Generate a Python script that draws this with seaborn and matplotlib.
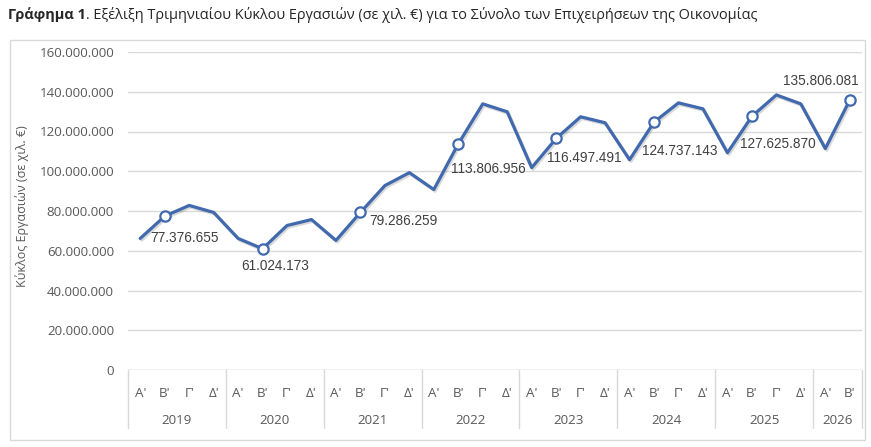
import matplotlib
matplotlib.use("Agg")
import matplotlib.pyplot as plt
import matplotlib.patheffects as pe
from matplotlib.patches import Rectangle
import numpy as np
import pandas as pd
import seaborn as sns

# quarterly turnover (thousand EUR), 2019 Q1 .. 2026 Q2
years = ["2019", "2020", "2021", "2022", "2023", "2024", "2025", "2026"]
quarters = ["Α'", "Β'", "Γ'", "Δ'"]
quarter_labels = quarters * 7 + quarters[:2]
year_of_point = [y for y in years[:-1] for _ in range(4)] + ["2026", "2026"]
turnover = [66.2e6, 77376655, 82.8e6, 79.3e6,
            66.2e6, 61024173, 72.7e6, 75.7e6,
            65.2e6, 79286259, 92.8e6, 99.3e6,
            90.8e6, 113806956, 133.9e6, 129.9e6,
            101.8e6, 116497491, 127.4e6, 124.4e6,
            105.8e6, 124737143, 134.4e6, 131.4e6,
            109.3e6, 127625870, 138.4e6, 133.9e6,
            111.4e6, 135806081]
# pixel offsets of the value labels on the Β' points
label_offsets = [(20, -22), (13, -17), (42, -9), (30, -25),
                 (28, -20), (26, -29), (26, -28), (-29, 19)]

df = pd.DataFrame({"idx": np.arange(len(turnover)), "value": turnover,
                   "quarter": quarter_labels, "year": year_of_point})

sns.set_style("white")
fonts = ["Open Sans", "Noto Sans", "DejaVu Sans"]
plt.rcParams["font.family"] = fonts

W, H = 871, 447
fig = plt.figure(figsize=(W / 100, H / 100), dpi=100)
ax = fig.add_axes([128 / W, 1 - 370 / H, (862 - 128) / W, (370 - 52) / H])

blue = "#4169AE"
grey_txt = "#595959"
grid_c = "#D9D9D9"

sns.lineplot(data=df, x="idx", y="value", ax=ax, color=blue, lw=2.3,
             path_effects=[pe.SimpleLineShadow(offset=(1, -1.2), alpha=0.15),
                           pe.Normal()], zorder=3)
marked = df[df["quarter"] == "Β'"]
sns.scatterplot(data=marked, x="idx", y="value", ax=ax, s=55, color="white",
                edgecolor=blue, linewidth=1.6, zorder=4)

fmt = lambda v: f"{v:,.0f}".replace(",", ".")
for (i, row), (dx, dy) in zip(marked.iterrows(), label_offsets):
    ha = "left" if dx == 42 else "center"
    if ha == "left":
        dx = 9
    ax.annotate(fmt(row["value"]), (row["idx"], row["value"]),
                xytext=(dx, dy), textcoords="offset pixels", ha=ha, va="center",
                fontsize=9.8, color="#404040", family=["Liberation Sans", "DejaVu Sans"],
                zorder=5)

ax.set_xlim(-0.5, len(turnover) - 0.5)
ax.set_ylim(0, 160e6)
yt = np.arange(0, 160e6 + 1, 20e6)
ax.set_yticks(yt)
ax.set_yticklabels([fmt(v) for v in yt], fontsize=9.6, color=grey_txt)
ax.tick_params(axis="y", length=0, pad=10)
ax.grid(axis="y", color=grid_c, lw=1)
ax.set_axisbelow(True)
for s in ax.spines.values():
    s.set_visible(False)
ax.axhline(0, color=grid_c, lw=1)

ax.set_xticks(df["idx"])
ax.set_xticklabels(quarter_labels, fontsize=9.6, color=grey_txt)
ax.tick_params(axis="x", length=0, pad=12)
ax.set_xlabel("")
ax.set_ylabel("Κύκλος Εργασιών (σε χιλ. €)", fontsize=9, color=grey_txt)
ax.yaxis.set_label_coords((22 - 128) / (862 - 128), 0.516)
ax.yaxis.label.set_va("center")

# year groups under the quarter labels
trans = ax.get_xaxis_transform()
sep_depth = -58 / (370 - 52)
bounds = [-0.5]
for y in years:
    pts = df.loc[df["year"] == y, "idx"]
    ax.text(pts.mean(), -50 / (370 - 52), y, transform=trans, ha="center",
            va="center", fontsize=9.6, color=grey_txt)
    bounds.append(pts.max() + 0.5)
for b in bounds:
    ax.plot([b, b], [0, sep_depth], transform=trans, color=grid_c, lw=1,
            clip_on=False)

# chart frame
fig.patches.append(Rectangle((10 / W, 1 - 440 / H), 855 / W, 400 / H,
                             transform=fig.transFigure, fill=False,
                             edgecolor=grid_c, lw=1))

# title, bold lead-in followed by regular text
t1 = fig.text(8 / W, 1 - 15 / H, "Γράφημα 1", fontsize=10.45, fontweight="bold",
              va="center", ha="left")
fig.canvas.draw()
bb = t1.get_window_extent()
fig.text(bb.x1 / W, 1 - 15 / H,
         ". Εξέλιξη Τριμηνιαίου Κύκλου Εργασιών (σε χιλ. €) για το Σύνολο των Επιχειρήσεων της Οικονομίας",
         fontsize=10.45, va="center", ha="left")

fig.savefig("out.png", dpi=100)
